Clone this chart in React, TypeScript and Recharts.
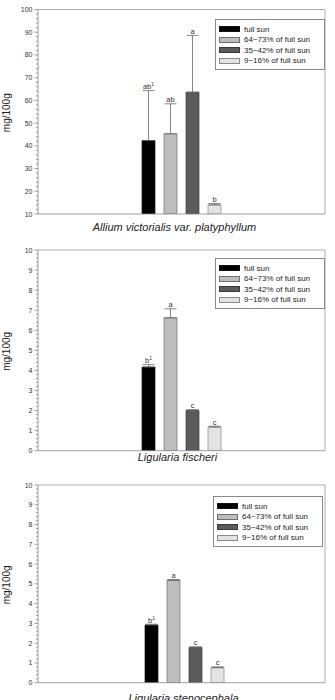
import { BarChart, Bar, XAxis, YAxis, ErrorBar, Legend, LabelList } from "recharts";

const FONT = "'Liberation Sans', Arial, sans-serif";

const seriesNames = ["full sun", "64~73% of full sun", "35~42% of full sun", "9~16% of full sun"];
const seriesKeys = ["s1", "s2", "s3", "s4"];
const fills = ["#000000", "#bdbdbd", "#5b5b5b", "#e3e3e3"];
const strokes = ["#111111", "#6e6e6e", "#3a3a3a", "#8a8a8a"];

const alliumMeans = [42.3, 45.3, 63.6, 14.0];
const alliumErrors = [22.0, 13.2, 25.0, 0.6];
const alliumLetters = ["ab", "ab", "a", "b"];
const alliumTicks = [10, 20, 30, 40, 50, 60, 70, 80, 90, 100];

const fischeriMeans = [4.17, 6.62, 2.0, 1.18];
const fischeriErrors = [0.12, 0.45, 0.05, 0.04];
const fischeriLetters = ["b", "a", "c", "c"];

const stenoMeans = [2.92, 5.18, 1.78, 0.76];
const stenoErrors = [0.04, 0.04, 0.04, 0.04];
const stenoLetters = ["b", "a", "c", "c"];

const tenTicks = [0, 1, 2, 3, 4, 5, 6, 7, 8, 9, 10];

// major ticks plus 4 minor ticks between each pair
function withMinor(major: number[]) {
  const out: number[] = [];
  for (let i = 0; i < major.length - 1; i++) {
    const step = (major[i + 1] - major[i]) / 5;
    for (let j = 0; j < 5; j++) out.push(major[i] + j * step);
  }
  out.push(major[major.length - 1]);
  return out;
}

const LegendBox = () => (
  <div
    style={{
      width: 110,
      height: 51,
      border: "1px solid #8a8a8a",
      boxSizing: "border-box",
      background: "#fff",
      fontFamily: FONT,
      fontSize: 8,
      color: "#222",
      position: "relative",
    }}
  >
    {seriesNames.map((n, i) => (
      <div
        key={n}
        style={{ position: "absolute", left: 3, top: 4.5 + i * 10.5, height: 9, display: "flex", alignItems: "center", whiteSpace: "nowrap" }}
      >
        <span style={{ display: "inline-block", width: 21, height: 6, background: fills[i], border: `1px solid ${strokes[i]}`, boxSizing: "border-box", marginRight: 4 }} />
        <span style={{ lineHeight: "9px", color: "#222" }}>{n}</span>
      </div>
    ))}
  </div>
);

interface PanelProps {
  title: string;
  means: number[];
  errors: number[];
  letters: string[];
  major: number[];
  top: number;
  height: number;
  marginTop: number;
  xAxisHeight: number;
  titleDx: number;
  titleY: number;
  legendLeft: number;
  legendTop: number;
  padLeft: number;
}

function Panel(p: PanelProps) {
  const row: any = { name: p.title };
  seriesKeys.forEach((k, i) => {
    row[k] = p.means[i];
    row["e" + k] = [0, p.errors[i]];
  });
  const domain = [p.major[0], p.major[p.major.length - 1]];
  const isMajor = (v: number) => p.major.some((m) => Math.abs(m - v) < 1e-6);

  const YTick = (t: any) => {
    const v = t.payload.value;
    const major = isMajor(v);
    return (
      <g>
        <line x1={t.x - (major ? 3.5 : 2)} x2={t.x} y1={t.y} y2={t.y} stroke="#777" strokeWidth={0.7} />
        {major && (
          <text x={t.x - 5.5} y={t.y} dy={2.5} textAnchor="end" fontSize={7} fill="#333" fontFamily={FONT}>
            {Math.round(v)}
          </text>
        )}
      </g>
    );
  };

  const letterFor = (i: number) => (lp: any) => {
    const vb = lp.viewBox ?? lp;
    const x = vb.x ?? lp.x;
    const y = vb.y ?? lp.y;
    const w = vb.width ?? lp.width;
    const h = vb.height ?? lp.height;
    const k = h / (p.means[i] - domain[0]);
    const errTop = y - p.errors[i] * k;
    return (
      <text x={x + w / 2} y={errTop - 1.5} textAnchor="middle" fontSize={7.5} fill="#333" fontFamily={FONT}>
        {p.letters[i]}
        {i === 0 && (
          <tspan fontSize={5} dy={-3}>
            1
          </tspan>
        )}
      </text>
    );
  };

  return (
    <BarChart
      width={335}
      height={p.height}
      data={[row]}
      margin={{ top: p.marginTop - 1, right: 9, left: 0, bottom: 0 }}
      barSize={13}
      barGap={9}
      style={{ position: "absolute", left: 0, top: p.top }}
    >
      <XAxis
        dataKey="name"
        tick={false}
        tickLine={false}
        height={p.xAxisHeight}
        axisLine={{ stroke: "#888", strokeWidth: 0.8 }}
        padding={{ left: p.padLeft, right: 0 }}
        label={(lp: any) => {
          const vb = lp.viewBox;
          return (
            <text x={vb.x + vb.width / 2 + p.titleDx} y={p.titleY} textAnchor="middle" fontSize={11} fontStyle="italic" fill="#222" fontFamily={FONT}>
              {p.title}
            </text>
          );
        }}
      />
      <XAxis xAxisId="top" dataKey="name" orientation="top" height={1} tick={false} tickLine={false} axisLine={{ stroke: "#999", strokeWidth: 0.8 }} />
      <YAxis
        domain={domain}
        ticks={withMinor(p.major)}
        interval={0}
        width={38}
        tickSize={0}
        tickMargin={0}
        tickLine={false}
        tick={YTick}
        axisLine={{ stroke: "#888", strokeWidth: 0.8 }}
        allowDataOverflow
        label={(lp: any) => {
          const vb = lp.viewBox;
          const cy = vb.y + vb.height / 2 + 1;
          return (
            <text x={10} y={cy} transform={`rotate(-90 10 ${cy})`} textAnchor="middle" fontSize={10} fill="#222" fontFamily={FONT}>
              mg/100g
            </text>
          );
        }}
      />
      <YAxis yAxisId="r" orientation="right" width={1} domain={domain} tick={false} tickLine={false} axisLine={{ stroke: "#999", strokeWidth: 0.8 }} />
      <Legend
        layout="vertical"
        align="center"
        verticalAlign="middle"
        wrapperStyle={{ left: p.legendLeft, top: p.legendTop, width: 110, height: 51 }}
        content={() => <LegendBox />}
      />
      {seriesKeys.map((k, i) => (
        <Bar key={k} dataKey={k} name={seriesNames[i]} fill={fills[i]} stroke={strokes[i]} strokeWidth={0.7} isAnimationActive={false}>
          <ErrorBar dataKey={"e" + k} width={6} stroke="#666" strokeWidth={0.8} direction="y" />
          <LabelList dataKey={k} content={letterFor(i)} />
        </Bar>
      ))}
    </BarChart>
  );
}

export default function App() {
  return (
    <div style={{ position: "absolute", left: 0, top: 0, width: 335, height: 700, background: "#fff", overflow: "hidden" }}>
      <Panel
        title="Allium victorialis var. platyphyllum"
        means={alliumMeans}
        errors={alliumErrors}
        letters={alliumLetters}
        major={alliumTicks}
        top={0}
        height={234}
        marginTop={9.5}
        xAxisHeight={20}
        titleDx={-7}
        titleY={231}
        legendLeft={215}
        legendTop={19}
        padLeft={0}
      />
      <Panel
        title="Ligularia fischeri"
        means={fischeriMeans}
        errors={fischeriErrors}
        letters={fischeriLetters}
        major={tenTicks}
        top={232}
        height={236}
        marginTop={18}
        xAxisHeight={17.3}
        titleDx={-4}
        titleY={229}
        legendLeft={215}
        legendTop={26}
        padLeft={0}
      />
      <Panel
        title="Ligularia stenocephala"
        means={stenoMeans}
        errors={stenoErrors}
        letters={stenoLetters}
        major={tenTicks}
        top={468}
        height={232}
        marginTop={17}
        xAxisHeight={17.3}
        titleDx={2}
        titleY={234}
        legendLeft={213}
        legendTop={28}
        padLeft={6}
      />
    </div>
  );
}
